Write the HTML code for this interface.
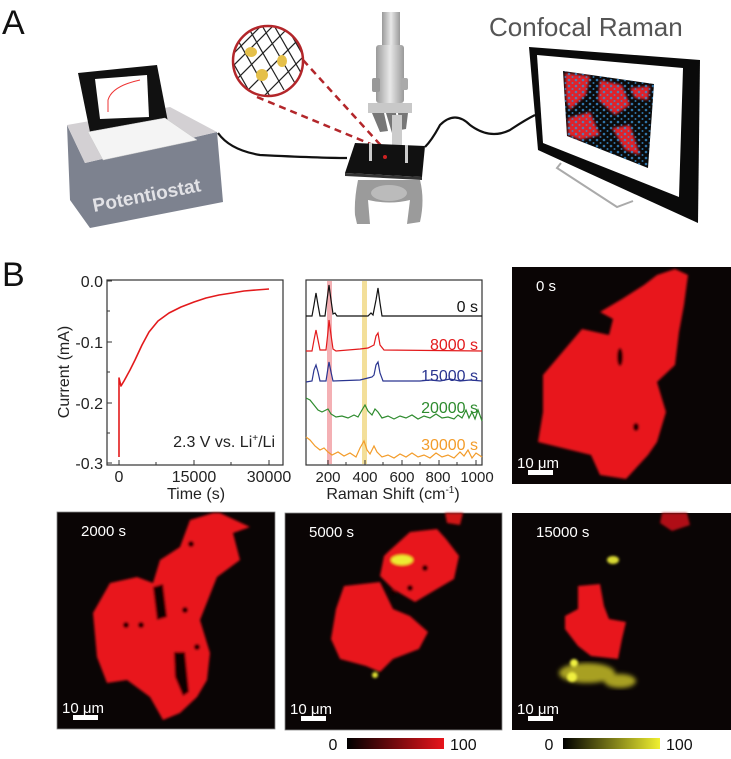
<!DOCTYPE html>
<html><head><meta charset="utf-8"><style>
html,body{margin:0;padding:0;background:#fff}
svg{display:block;font-family:"Liberation Sans",Arial,sans-serif}
</style></head><body>
<svg width="731" height="759" viewBox="0 0 731 759" xmlns="http://www.w3.org/2000/svg">
<defs>
<linearGradient id="gr" x1="0" x2="1"><stop offset="0" stop-color="#000"/><stop offset="1" stop-color="#e8141b"/></linearGradient>
<linearGradient id="gy" x1="0" x2="1"><stop offset="0" stop-color="#000"/><stop offset="1" stop-color="#f0f030"/></linearGradient>
<linearGradient id="gm" x1="0" x2="1"><stop offset="0" stop-color="#9a9a9a"/><stop offset="0.5" stop-color="#e8e8e8"/><stop offset="1" stop-color="#9a9a9a"/></linearGradient>
<pattern id="dots" width="7" height="6" patternUnits="userSpaceOnUse"><circle cx="2" cy="2" r="1.3" fill="#3a8fd0"/><circle cx="5.5" cy="5" r="1" fill="#3a8fd0"/></pattern>
<filter id="bl"><feGaussianBlur stdDeviation="1.2"/></filter>
<filter id="bl2"><feGaussianBlur stdDeviation="2.5"/></filter>
<clipPath id="cc"><circle cx="268" cy="61" r="35"/></clipPath>
<clipPath id="mon"><polygon points="563,71 654,84 648,168 567,136"/></clipPath>
</defs>

<text x="2" y="34" font-size="34" fill="#111">A</text>

<!-- potentiostat -->
<polygon points="67,125 85,163 217,132 223,202 90,228 70,200" fill="#7d828f"/>
<polygon points="67,125 170,107 217,132 85,163" fill="#d3d0d3"/>
<polygon points="78,73 157,65 168,122 90,132" fill="#111"/>
<polygon points="95,79 147,75 149,117 100,119" fill="#fff"/>
<path d="M108,112 L108,100 Q112,86 140,80" stroke="#e33" stroke-width="1" fill="none"/>
<polygon points="88,132 165,118 197,140 103,160" fill="#f4f4f4" stroke="#ccc" stroke-width="0.5"/>
<text x="94" y="212" font-size="19" font-weight="bold" fill="#e2e2e6" transform="rotate(-11 94 212)">Potentiostat</text>

<!-- cables -->
<path d="M218,133 Q230,150 260,155 Q320,158 347,158" stroke="#111" stroke-width="2.2" fill="none"/>
<path d="M425,147 Q432,140 440,125 Q455,110 470,125 Q490,140 510,130 Q525,120 535,115" stroke="#111" stroke-width="2.2" fill="none"/>

<!-- magnifier -->
<g clip-path="url(#cc)" stroke="#222" stroke-width="1.2">
<path d="M220,40 L260,110 M232,30 L272,100 M244,20 L284,90 M256,15 L296,85 M268,15 L308,85 M280,15 L320,85 M208,50 L248,120"/>
<path d="M320,40 L250,110 M308,30 L238,100 M296,20 L226,90 M284,15 L214,85 M272,15 L202,85 M332,50 L262,120 M344,60 L274,130"/>
</g>
<circle cx="268" cy="61" r="35" fill="none" stroke="#b3262a" stroke-width="2.5"/>
<ellipse cx="251" cy="52" rx="6" ry="5" fill="#e5c04a"/>
<ellipse cx="282" cy="61" rx="5" ry="6" fill="#e5c04a"/>
<ellipse cx="262" cy="75" rx="6" ry="6" fill="#e5c04a"/>
<path d="M303,60 L385,150 M257,97 L385,150" stroke="#b3262a" stroke-width="2.5" stroke-dasharray="7,5" fill="none"/>

<!-- microscope -->
<rect x="382" y="12" width="18" height="35" fill="url(#gm)"/>
<rect x="376" y="45" width="28" height="58" rx="3" fill="url(#gm)"/>
<rect x="372" y="78" width="8" height="14" rx="2" fill="#999"/>
<rect x="401" y="78" width="7" height="12" rx="2" fill="#aaa"/>
<path d="M368,103 L412,103 L412,113 L368,113 Z" fill="#c8c8c8"/>
<path d="M372,113 L380,132 L388,131 L384,113 Z M386,113 L392,133 L398,132 L396,113 Z M398,113 L400,130 L406,129 L408,113 Z" fill="#777"/>
<rect x="392" y="115" width="10" height="30" fill="#ccc"/>
<polygon points="355,143 425,146 422,177 345,173" fill="#111"/>
<polygon points="345,173 422,177 422,180 345,176" fill="#333"/>
<rect x="369" y="143" width="3" height="18" fill="#ccc"/>
<rect x="405" y="145" width="3" height="18" fill="#ccc"/>
<circle cx="385" cy="157" r="2" fill="#c22"/>
<path d="M358,180 Q354,200 355,215 L357,224 L370,224 L368,200 Q390,205 410,200 L407,224 L420,222 Q425,200 420,180 Z" fill="#9b9b9b"/>
<ellipse cx="389" cy="193" rx="18" ry="8" fill="#bbb"/>

<!-- monitor -->
<path d="M561,163 L557,168 L617,207 L633,201" stroke="#aaa" stroke-width="2" fill="none"/>
<polygon points="529,47 700,60 698,223 538,150" fill="#0a0a0a"/>
<polygon points="537,55 683,68 679,197 543,143" fill="#fff"/>
<polygon points="563,71 654,84 648,168 567,136" fill="#0a0a0a"/>
<g clip-path="url(#mon)">
<g fill="#e0202a" filter="url(#bl)">
<polygon points="565,73 590,76 586,95 570,110 566,100"/>
<polygon points="600,80 622,85 630,105 615,115 598,100"/>
<polygon points="568,118 590,112 600,135 580,140 568,135"/>
<polygon points="612,128 630,125 640,155 625,150"/>
<polygon points="630,88 650,86 648,100 635,98"/>
</g>
<rect x="560" y="68" width="100" height="105" fill="url(#dots)" opacity="0.8"/>
</g>
<text x="489" y="36" font-size="26" fill="#555">Confocal Raman</text>

<text x="2" y="286" font-size="34" fill="#111">B</text>

<!-- plot 1 -->
<rect x="107" y="280" width="176" height="185" fill="none" stroke="#333" stroke-width="1.2"/>
<g stroke="#333" stroke-width="1">
<path d="M119,465 v-5 M194,465 v-5 M269,465 v-5 M156,465 v-3 M231,465 v-3 M107,281 h5 M107,342 h5 M107,403 h5 M107,463 h5 M107,311 h3 M107,372 h3 M107,433 h3"/>
</g>
<path d="M119,457 L119,378 L121,386 L124,381 L130,370 L135,360 L142,345 L149,332 L158,321 L169,313 L181,307 L194,302 L206,298 L219,295 L232,293 L244,291 L256,290 L269,289" stroke="#e31a1c" stroke-width="1.6" fill="none" stroke-linejoin="round"/>
<g font-size="16" fill="#222" text-anchor="end">
<text x="103" y="287">0.0</text><text x="103" y="348">-0.1</text><text x="103" y="409">-0.2</text><text x="103" y="469">-0.3</text>
</g>
<g font-size="16" fill="#222" text-anchor="middle">
<text x="119" y="482">0</text><text x="194" y="482">15000</text><text x="269" y="482">30000</text>
<text x="196" y="499">Time (s)</text>
<text x="393" y="499">Raman Shift (cm<tspan font-size="10" dy="-6">-1</tspan><tspan dy="6">)</tspan></text>
</g>
<text x="0" y="0" font-size="16" fill="#222" text-anchor="middle" transform="translate(69 372) rotate(-90)">Current (mA)</text>
<text x="275" y="447" font-size="16" fill="#222" text-anchor="end">2.3 V vs. Li<tspan font-size="10" dy="-6">+</tspan><tspan dy="6">/Li</tspan></text>

<!-- plot 2 -->
<rect x="327" y="281" width="5" height="183" fill="#f4b0b4"/>
<rect x="362" y="281" width="5" height="183" fill="#f3df9a"/>
<rect x="306" y="280" width="176" height="185" fill="none" stroke="#333" stroke-width="1.2"/>
<g stroke="#333" stroke-width="1"><path d="M328,465 v-5 M365,465 v-5 M402,465 v-5 M439,465 v-5 M476,465 v-5 M346,465 v-3 M383,465 v-3 M420,465 v-3 M457,465 v-3"/></g>
<g fill="none" stroke-width="1.2">
<path stroke="#111" d="M306,316 L312,316 L314,305 L316,293 L318,305 L320,316 L325,316 L327,300 L329,285 L331,300 L333,314 L335,313 L337,316 L368,316 L371,313 L373,315 L376,300 L378,288 L380,303 L382,316 L482,316"/>
<path stroke="#e31a1c" d="M306,351 L312,351 L314,340 L316,330 L318,340 L320,350 L326,350 L328,332 L329,320 L331,335 L333,349 L336,351 L360,349 L368,348 L374,345 L376,336 L378,333 L380,345 L384,350 L482,351"/>
<path stroke="#2a3590" d="M306,382 L312,381 L314,370 L316,365 L318,372 L320,381 L326,381 L328,368 L329,362 L331,372 L333,381 L360,380 L368,378 L372,377 L374,375 L376,365 L378,362 L380,373 L383,381 L420,381 L430,380 L440,381 L450,379 L460,381 L470,380 L482,381"/>
<path stroke="#2e8b2e" d="M306,398 L310,400 L314,405 L318,410 L322,412 L326,410 L328,409 L331,414 L336,417 L342,416 L348,418 L354,415 L358,417 L362,410 L365,405 L368,411 L372,415 L375,409 L378,412 L382,418 L388,416 L394,419 L400,416 L406,418 L412,415 L418,419 L424,416 L430,418 L436,414 L442,418 L448,417 L454,419 L458,415 L462,418 L466,410 L469,418 L472,412 L475,419 L478,410 L482,421"/>
<path stroke="#f39c2a" d="M306,437 L310,440 L315,446 L320,450 L324,448 L328,452 L332,455 L338,452 L344,456 L350,453 L356,457 L360,448 L364,441 L367,450 L370,454 L374,446 L377,452 L382,457 L388,455 L394,458 L400,454 L406,457 L412,453 L418,457 L424,455 L430,458 L436,453 L442,457 L448,455 L454,458 L460,452 L464,456 L468,450 L472,458 L476,453 L482,457"/>
</g>
<g font-size="16" text-anchor="end">
<text x="478" y="312" fill="#111">0 s</text>
<text x="478" y="350" fill="#e31a1c">8000 s</text>
<text x="478" y="381" fill="#2a3590">15000 s</text>
<text x="478" y="413" fill="#2e8b2e">20000 s</text>
<text x="478" y="450" fill="#f39c2a">30000 s</text>
</g>
<g font-size="15" fill="#222" text-anchor="middle">
<text x="328" y="482">200</text><text x="365" y="482">400</text><text x="402" y="482">600</text><text x="438" y="482">800</text><text x="477" y="482">1000</text>
</g>

<!-- heatmap 0 s -->
<g transform="translate(512,267)">
<rect width="219" height="217" fill="#0a0505"/>
<g filter="url(#bl)">
<polygon fill="#e8141b" points="163,2 176,8 172,38 167,65 163,98 145,115 154,145 145,175 136,188 114,212 88,208 79,188 26,175 31,145 31,108 53,82 70,62 97,68 101,52 88,45 110,32 132,18 145,8"/>
<ellipse cx="108" cy="90" rx="3" ry="9" fill="#0a0505"/>
<ellipse cx="124" cy="160" rx="3" ry="4" fill="#0a0505"/>
</g>
<text x="24" y="24" font-size="15" fill="#fff">0 s</text>
<text x="5" y="201" font-size="15" fill="#fff">10 μm</text>
<rect x="16" y="203" width="25" height="5" fill="#fff"/>
</g>

<!-- heatmap 2000 s -->
<g transform="translate(57,512)">
<rect width="218" height="217" fill="#0a0505" stroke="#888" stroke-width="0.8"/>
<g filter="url(#bl)">
<polygon fill="#e8141b" points="163,1 193,15 176,21 183,48 160,65 143,108 153,141 150,168 140,185 123,201 106,208 93,185 70,168 50,171 40,145 36,101 53,71 80,65 96,71 103,48 123,35 133,8 156,1"/>
<polygon fill="#0a0505" points="117,140 128,140 132,180 126,184 118,165"/>
<polygon fill="#0a0505" points="96,75 106,72 110,105 100,108"/>
<circle cx="134" cy="32" r="3" fill="#0a0505"/><circle cx="69" cy="113" r="3" fill="#0a0505"/><circle cx="84" cy="113" r="3" fill="#0a0505"/><circle cx="128" cy="98" r="3" fill="#0a0505"/><circle cx="140" cy="135" r="3" fill="#0a0505"/>
</g>
<text x="24" y="24" font-size="15" fill="#fff">2000 s</text>
<text x="5" y="201" font-size="15" fill="#fff">10 μm</text>
<rect x="16" y="203" width="25" height="5" fill="#fff"/>
</g>

<!-- heatmap 5000 s -->
<g transform="translate(285,513)">
<rect width="217" height="217" fill="#0a0505" stroke="#888" stroke-width="0.8"/>
<g filter="url(#bl)">
<polygon fill="#e8141b" points="59,73 95,69 108,96 125,103 143,119 134,136 108,146 95,159 81,153 55,146 46,126 51,96"/>
<polygon fill="#e8141b" points="103,39 125,19 152,16 161,26 174,43 169,66 152,76 130,89 108,76 95,63 99,43"/>
<polygon fill="#d01218" points="160,0 178,0 175,12 162,10"/>
<circle cx="140" cy="55" r="3" fill="#0a0505"/><circle cx="125" cy="75" r="3" fill="#0a0505"/><circle cx="108" cy="80" r="3" fill="#0a0505"/>
<ellipse cx="117" cy="47" rx="11" ry="5" fill="#ecec30"/>
<circle cx="90" cy="162" r="3" fill="#e0e030"/>
</g>
<text x="24" y="24" font-size="15" fill="#fff">5000 s</text>
<text x="5" y="201" font-size="15" fill="#fff">10 μm</text>
<rect x="16" y="203" width="25" height="5" fill="#fff"/>
</g>

<!-- heatmap 15000 s -->
<g transform="translate(512,513)">
<rect width="219" height="217" fill="#0a0505"/>
<g filter="url(#bl)">
<polygon fill="#e8141b" points="66,73 88,71 92,93 97,106 114,109 110,126 106,146 79,143 66,133 53,116 53,103 66,96"/>
<polygon fill="#b01015" points="150,0 175,0 178,12 160,18 148,10"/>
<ellipse cx="101" cy="47" rx="6" ry="4" fill="#d8d830"/>
</g>
<g filter="url(#bl2)" fill="#a8a020">
<ellipse cx="75" cy="160" rx="28" ry="10"/>
<ellipse cx="108" cy="168" rx="16" ry="7"/>
</g>
<g filter="url(#bl)" fill="#f0f040"><circle cx="62" cy="150" r="4"/><circle cx="60" cy="164" r="5"/></g>
<text x="24" y="24" font-size="15" fill="#fff">15000 s</text>
<text x="5" y="201" font-size="15" fill="#fff">10 μm</text>
<rect x="16" y="203" width="25" height="5" fill="#fff"/>
</g>

<rect x="347" y="738" width="97" height="11" fill="url(#gr)"/>
<rect x="563" y="738" width="97" height="11" fill="url(#gy)"/>
<g font-size="16" fill="#111">
<text x="333" y="750" text-anchor="middle">0</text><text x="450" y="750">100</text>
<text x="549" y="750" text-anchor="middle">0</text><text x="666" y="750">100</text>
</g>
</svg>
</body></html>
